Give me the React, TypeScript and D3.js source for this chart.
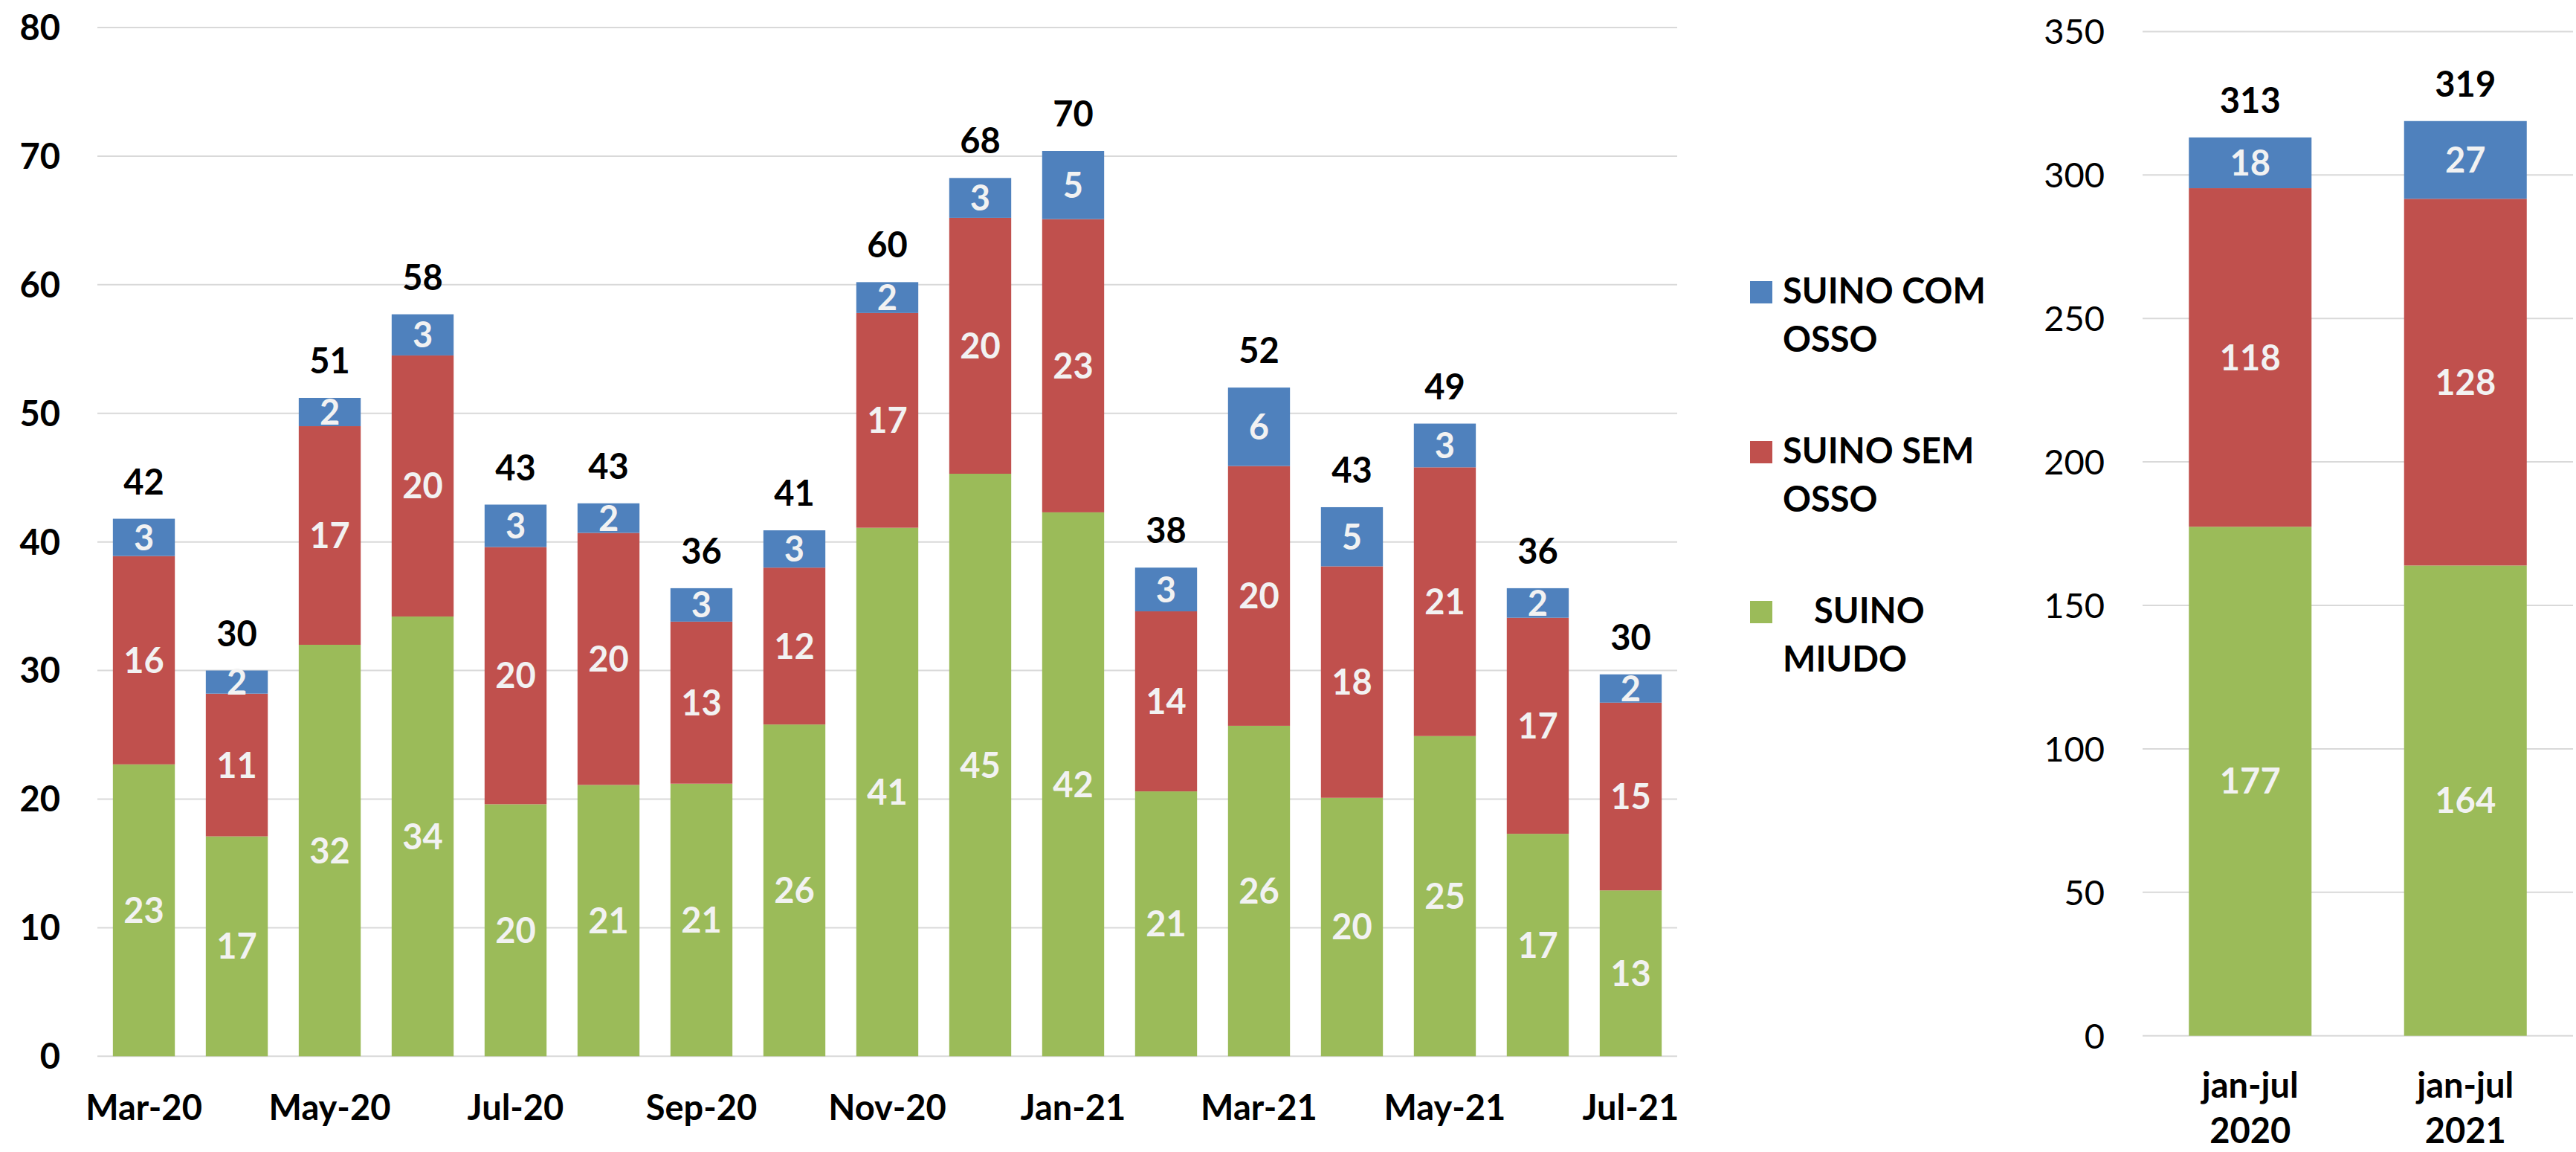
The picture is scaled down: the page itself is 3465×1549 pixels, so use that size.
import React from "react";
import * as d3 from "d3";

// ---------- DATA ----------
const months = [
  "Mar-20", "Apr-20", "May-20", "Jun-20", "Jul-20", "Aug-20", "Sep-20", "Oct-20", "Nov-20",
  "Dec-20", "Jan-21", "Feb-21", "Mar-21", "Apr-21", "May-21", "Jun-21", "Jul-21",
];
const miudo = [22.7, 17.1, 32.0, 34.2, 19.6, 21.1, 21.2, 25.8, 41.1, 45.3, 42.3, 20.6, 25.7, 20.1, 24.9, 17.3, 12.9];
const semOsso = [16.2, 11.1, 17.0, 20.3, 20.0, 19.6, 12.6, 12.2, 16.7, 19.9, 22.8, 14.0, 20.2, 18.0, 20.9, 16.8, 14.6];
const comOsso = [2.9, 1.8, 2.2, 3.2, 3.3, 2.3, 2.6, 2.9, 2.4, 3.1, 5.3, 3.4, 6.1, 4.6, 3.4, 2.3, 2.2];

const periods = ["jan-jul 2020", "jan-jul 2021"];
const periodLines = [["jan-jul", "2020"], ["jan-jul", "2021"]];
const miudoTotal = [177.4, 163.9];
const semOssoTotal = [118.0, 127.8];
const comOssoTotal = [17.7, 27.1];

const leftTicks = [0, 10, 20, 30, 40, 50, 60, 70, 80];
const rightTicks = [0, 50, 100, 150, 200, 250, 300, 350];

const seriesKeys = ["miudo", "sem", "com"];
const seriesColors = ["#9BBB59", "#C0504D", "#4F81BD"];
const legendLines = [
  ["SUINO COM", "OSSO"],
  ["SUINO SEM", "OSSO"],
  ["SUINO", "MIUDO"],
];
const legendColors = ["#4F81BD", "#C0504D", "#9BBB59"];

// ---------- HELPERS ----------
const FONT = "Lato, 'Open Sans', sans-serif";
const FS = 47;
const GRID = "#d9d9d9";

type Row = { label: string; miudo: number; sem: number; com: number };

function StackPanel(props: {
  rows: Row[];
  x: d3.ScaleBand<string>;
  y: d3.ScaleLinear<number, number>;
}) {
  const { rows, x, y } = props;
  const stack = d3.stack<Row>().keys(seriesKeys);
  const layers = stack(rows);
  return (
    <g>
      {layers.map((layer, li) => (
        <g key={li}>
          {layer.map((d, i) => {
            const x0 = x(rows[i].label)!;
            const yTop = y(d[1]);
            const yBot = y(d[0]);
            return (
              <g key={i}>
                <rect x={x0} y={yTop} width={x.bandwidth()} height={yBot - yTop} fill={seriesColors[li]} />
                <text
                  x={x0 + x.bandwidth() / 2}
                  y={(yTop + yBot) / 2}
                  dy="0.36em"
                  textAnchor="middle"
                  fill="#f2f2f2"
                  fontWeight="bold"
                  fontSize={FS}
                >
                  {Math.round(d[1] - d[0])}
                </text>
              </g>
            );
          })}
        </g>
      ))}
      {rows.map((r, i) => {
        const tot = r.miudo + r.sem + r.com;
        return (
          <text
            key={"t" + i}
            x={x(r.label)! + x.bandwidth() / 2}
            y={y(tot) - 33}
            textAnchor="middle"
            fill="#000"
            fontWeight="bold"
            fontSize={FS}
          >
            {Math.round(tot)}
          </text>
        );
      })}
    </g>
  );
}

export default function App() {
  const W = 3465;
  const H = 1549;

  // Left chart scales
  const xL = d3.scaleBand<string>().domain(months).range([131, 2256]).paddingInner(0.333).paddingOuter(0.1667);
  const yL = d3.scaleLinear().domain([0, 80]).range([1420.3, 37]);
  const rowsL: Row[] = months.map((m, i) => ({ label: m, miudo: miudo[i], sem: semOsso[i], com: comOsso[i] }));

  // Right chart scales
  const xR = d3.scaleBand<string>().domain(periods).range([2882, 3461]).paddingInner(0.43).paddingOuter(0.215);
  const yR = d3.scaleLinear().domain([0, 350]).range([1392.7, 42.4]);
  const rowsR: Row[] = periods.map((p, i) => ({ label: p, miudo: miudoTotal[i], sem: semOssoTotal[i], com: comOssoTotal[i] }));

  return (
    <svg
      width={W}
      height={H}
      style={{ position: "absolute", left: 0, top: 0, display: "block", background: "#fff" }}
      fontFamily={FONT}
    >
      <rect x={0} y={0} width={W} height={H} fill="#fff" />

      {/* Left chart grid + axis */}
      {leftTicks.map((t) => (
        <g key={"gl" + t}>
          <line x1={131} x2={2256} y1={yL(t)} y2={yL(t)} stroke={GRID} strokeWidth={2} />
          <text x={81} y={yL(t)} dy="0.36em" textAnchor="end" fontWeight="bold" fontSize={FS} fill="#000">
            {t}
          </text>
        </g>
      ))}
      <StackPanel rows={rowsL} x={xL} y={yL} />
      {months.map((m, i) =>
        i % 2 === 0 ? (
          <text
            key={"xl" + i}
            x={xL(m)! + xL.bandwidth() / 2}
            y={1506}
            textAnchor="middle"
            fontWeight="bold"
            fontSize={FS}
            fill="#000"
          >
            {m}
          </text>
        ) : null
      )}

      {/* Legend */}
      {legendLines.map((lines, i) => {
        const top = 378 + i * 215;
        return (
          <g key={"lg" + i}>
            <rect x={2354} y={top} width={30} height={30} fill={legendColors[i]} />
            <text x={2398 + (i === 2 ? 42 : 0)} y={top + 30} fontWeight="bold" fontSize={FS} fill="#000">
              {lines[0]}
            </text>
            <text x={2398} y={top + 95} fontWeight="bold" fontSize={FS} fill="#000">
              {lines[1]}
            </text>
          </g>
        );
      })}

      {/* Right chart grid + axis */}
      {rightTicks.map((t) => (
        <g key={"gr" + t}>
          <line x1={2882} x2={3461} y1={yR(t)} y2={yR(t)} stroke={GRID} strokeWidth={2} />
          <text x={2831} y={yR(t)} dy="0.36em" textAnchor="end" fontSize={FS} fill="#000">
            {t}
          </text>
        </g>
      ))}
      <StackPanel rows={rowsR} x={xR} y={yR} />
      {periods.map((p, i) => (
        <text
          key={"xr" + i}
          textAnchor="middle"
          fontWeight="bold"
          fontSize={FS}
          fill="#000"
        >
          <tspan x={xR(p)! + xR.bandwidth() / 2} y={1476}>
            {periodLines[i][0]}
          </tspan>
          <tspan x={xR(p)! + xR.bandwidth() / 2} y={1537}>
            {periodLines[i][1]}
          </tspan>
        </text>
      ))}
    </svg>
  );
}
